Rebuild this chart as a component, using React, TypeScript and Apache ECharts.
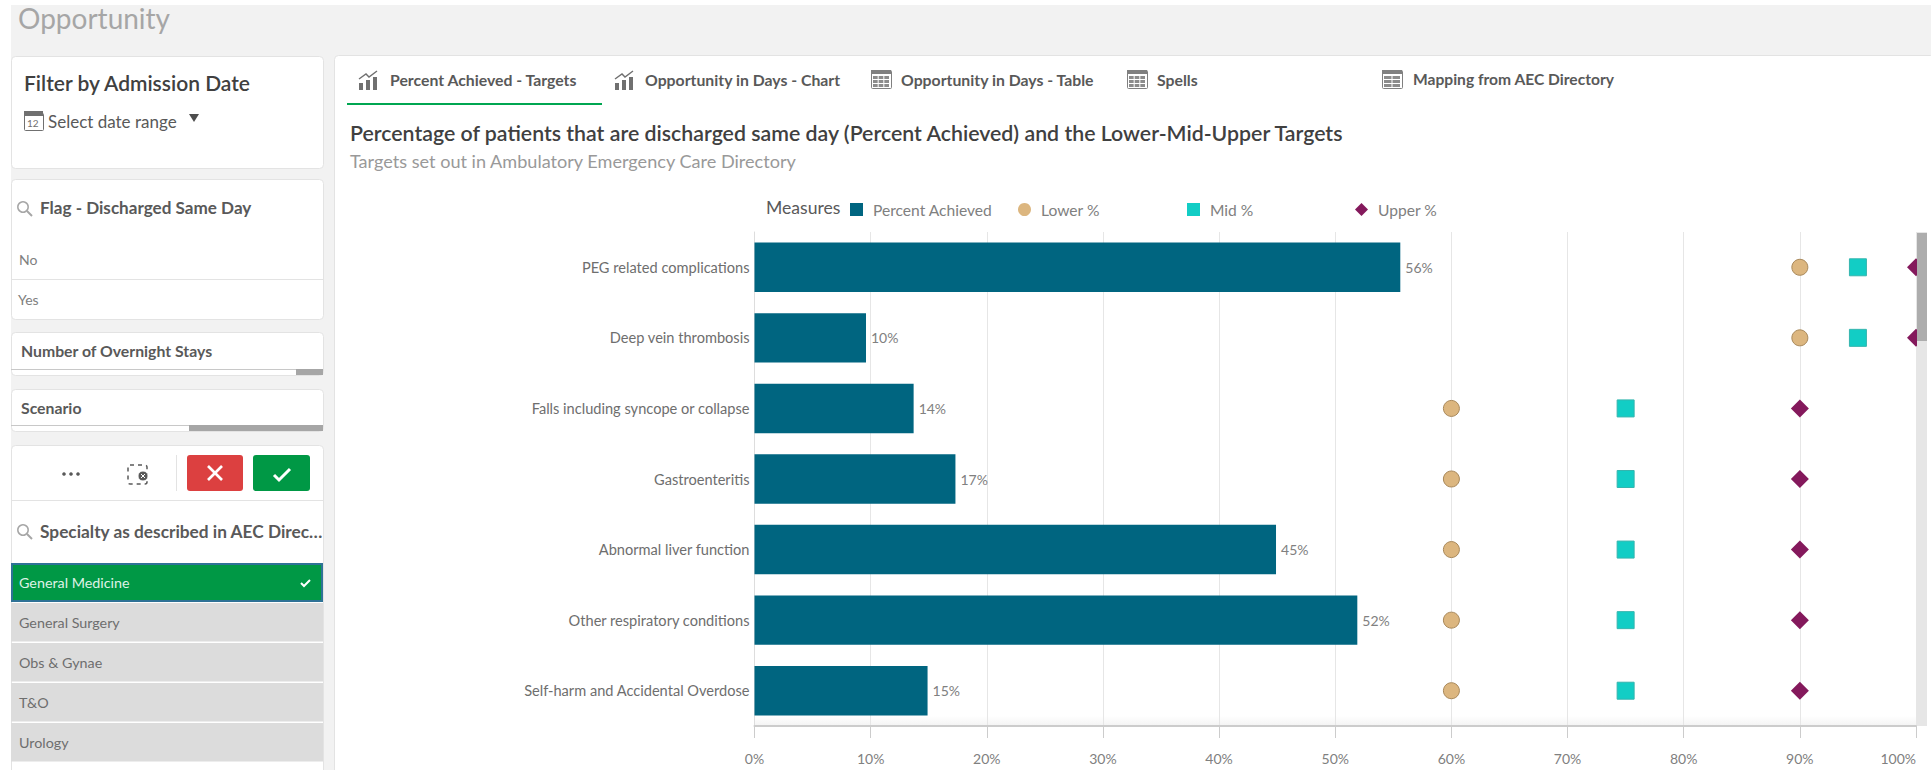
import React, { useEffect, useRef } from "react";
import * as echarts from "echarts";

const conditions = [
  "PEG related complications",
  "Deep vein thrombosis",
  "Falls including syncope or collapse",
  "Gastroenteritis",
  "Abnormal liver function",
  "Other respiratory conditions",
  "Self-harm and Accidental Overdose",
];
const percentAchieved = [55.6, 9.6, 13.7, 17.3, 44.9, 51.9, 14.9];
const lowerTarget = [90, 90, 60, 60, 60, 60, 60];
const midTarget = [95, 95, 75, 75, 75, 75, 75];
const upperTarget = [100, 100, 90, 90, 90, 90, 90];
const specialties = ["General Surgery", "Obs & Gynae", "T&O", "Urology"];

const FONT = "Lato";
const TEAL = "#006580";
const TAN = "#dcb67f";
const CYAN = "#12cdc5";
const PLUM = "#84195c";
const GREEN = "#009845";

const txt = (x: number, y: number, text: string, fontSize: number, fill: string, fontWeight: any = 400, z = 5) => ({
  type: "text",
  x,
  y,
  z,
  style: { text, fontFamily: FONT, fontSize, fill, fontWeight, textVerticalAlign: "middle", verticalAlign: "middle" },
});
const box = (x: number, y: number, width: number, height: number, fill: string, stroke?: string, r = 0, z = -5) => ({
  type: "rect",
  z,
  shape: { x: x + (stroke ? 0.5 : 0), y: y + (stroke ? 0.5 : 0), width, height, r },
  style: { fill, stroke: stroke || "none", lineWidth: stroke ? 1 : 0 },
});
const seg = (x1: number, y1: number, x2: number, y2: number, stroke: string, lineWidth = 1, z = 5) => ({
  type: "line",
  z,
  shape: { x1, y1, x2, y2 },
  style: { stroke, lineWidth },
});

const searchIcon = (x: number, y: number) => [
  { type: "circle", z: 5, shape: { cx: x + 6, cy: y - 1, r: 5.2 }, style: { fill: "none", stroke: "#a6a6a6", lineWidth: 1.5 } },
  seg(x + 10, y + 3, x + 15, y + 8, "#a6a6a6", 2),
];

// Combined bar-and-trend glyph used by the chart tabs
const chartIcon = (x: number, y: number) => [
  box(x, y + 3, 4, 7, "#707070", undefined, 0, 5),
  box(x + 7, y, 4, 10, "#707070", undefined, 0, 5),
  box(x + 14, y - 3, 4, 13, "#707070", undefined, 0, 5),
  { type: "polyline", z: 5, shape: { points: [[x, y - 1], [x + 7, y - 6], [x + 10, y - 3], [x + 18, y - 9]] }, style: { fill: "none", stroke: "#707070", lineWidth: 1.4 } },
];

const tableIcon = (x: number, y: number, cols = 3) => {
  const w = 20;
  const h = 18;
  const els: any[] = [box(x, y - h / 2, w, h, "#fff", "#808080", 1, 5), box(x, y - h / 2, w, 4, "#808080", undefined, 0, 5)];
  for (let c = 0; c < cols; c++) {
    for (let r = 0; r < 3; r++) {
      const cw = (w - 4 - (cols - 1)) / cols;
      els.push(box(x + 2 + c * (cw + 1), y - h / 2 + 6 + r * 4, cw, 3, "#8c8c8c", undefined, 0, 5));
    }
  }
  return els;
};

const buildChrome = () => [
  // Page and panels
  box(0, 0, 1931, 770, "#ffffff", undefined, 0, -20),
  box(11, 5, 1920, 765, "#f2f2f2", undefined, 0, -19),
  box(334, 55, 1600, 720, "#ffffff", "#e3e3e3", 4),
  box(11, 56, 312, 112, "#ffffff", "#e3e3e3", 4),
  box(11, 179, 312, 140, "#ffffff", "#e3e3e3", 4),
  box(11, 332, 312, 43, "#ffffff", "#e3e3e3", 4),
  box(11, 389, 312, 42, "#ffffff", "#e3e3e3", 4),
  box(11, 445, 312, 330, "#ffffff", "#e3e3e3", 4),

  txt(18, 18, "Opportunity", 28, "#a6a6a6"),

  // Date filter
  txt(24, 82, "Filter by Admission Date", 21, "#404040", 600),
  box(24, 113, 19, 17, "#fff", "#707070", 1, 5),
  box(24, 111, 19, 5, "#707070", undefined, 0, 5),
  txt(27, 123, "12", 10, "#707070"),
  txt(48, 121, "Select date range", 17, "#595959"),
  { type: "polygon", z: 5, shape: { points: [[189, 114], [199, 114], [194, 122]] }, style: { fill: "#4d4d4d" } },

  // Discharge flag listbox
  ...searchIcon(17, 208),
  txt(40, 207, "Flag - Discharged Same Day", 17.1, "#595959", 700),
  txt(19, 259, "No", 14, "#808080"),
  seg(11, 279.5, 323, 279.5, "#e3e3e3"),
  txt(18, 299, "Yes", 14, "#808080"),

  // Collapsed listboxes
  txt(21, 350, "Number of Overnight Stays", 15.8, "#595959", 700),
  seg(11, 369.5, 296, 369.5, "#c8c8c8"),
  box(296, 369, 27, 6, "#a6a6a6", undefined, 0, 5),
  txt(21, 407, "Scenario", 15.8, "#595959", 700),
  seg(11, 425.5, 189, 425.5, "#c8c8c8"),
  box(189, 425, 134, 6, "#a6a6a6", undefined, 0, 5),

  // Selection toolbar
  { type: "circle", z: 5, shape: { cx: 64, cy: 474, r: 1.8 }, style: { fill: "#595959" } },
  { type: "circle", z: 5, shape: { cx: 71, cy: 474, r: 1.8 }, style: { fill: "#595959" } },
  { type: "circle", z: 5, shape: { cx: 78, cy: 474, r: 1.8 }, style: { fill: "#595959" } },
  {
    type: "rect",
    z: 5,
    shape: { x: 128, y: 465, width: 19, height: 19, r: 2 },
    style: { fill: "none", stroke: "#595959", lineWidth: 1.5, lineDash: [4, 4] },
  },
  { type: "circle", z: 6, shape: { cx: 143, cy: 476, r: 5 }, style: { fill: "#595959", stroke: "#fff", lineWidth: 1 } },
  seg(141, 474, 145, 478, "#fff", 1, 7),
  seg(145, 474, 141, 478, "#fff", 1, 7),
  seg(176.5, 455, 176.5, 491, "#e3e3e3"),
  box(187, 455, 56, 36, "#dc4040", undefined, 3, 5),
  seg(208, 466, 222, 480, "#ffffff", 2.6, 6),
  seg(222, 466, 208, 480, "#ffffff", 2.6, 6),
  box(253, 455, 57, 36, GREEN, undefined, 3, 5),
  { type: "polyline", z: 6, shape: { points: [[274, 475], [279, 480], [290, 469]] }, style: { fill: "none", stroke: "#fff", lineWidth: 3 } },
  seg(11, 500.5, 323, 500.5, "#e3e3e3"),

  // Specialty listbox
  ...searchIcon(17, 531),
  txt(40, 531, "Specialty as described in AEC Direc…", 17.3, "#595959", 700),
  box(11, 563, 312, 39, "#2f7296", undefined, 0, 4),
  box(13, 565, 308, 35, GREEN, undefined, 0, 5),
  txt(19, 582, "General Medicine", 14.3, "#dff2e6"),
  { type: "polyline", z: 6, shape: { points: [[301, 583], [304, 586], [310, 580]] }, style: { fill: "none", stroke: "#fff", lineWidth: 2 } },
  ...specialties.flatMap((name, i) => [
    box(11, 603 + i * 40, 312, 38.5, "#dcdcdc", undefined, 0, 5),
    txt(19, 622 + i * 40, name, 14.3, "#6e6e6e", 400, 6),
  ]),

  // Sheet tabs
  ...chartIcon(359, 80),
  txt(390, 79, "Percent Achieved - Targets", 15.8, "#595959", 700),
  seg(347, 104, 602, 104, "#00a651", 2),
  ...chartIcon(615, 80),
  txt(645, 79, "Opportunity in Days - Chart", 15.8, "#595959", 700),
  ...tableIcon(871, 79),
  txt(901, 79, "Opportunity in Days - Table", 15.8, "#595959", 700),
  ...tableIcon(1127, 79),
  txt(1157, 79, "Spells", 15.8, "#595959", 700),
  ...tableIcon(1382, 79, 2),
  txt(1413, 79, "Mapping from AEC Directory", 15.6, "#595959", 700),

  // Chart heading and legend caption
  txt(350, 133, "Percentage of patients that are discharged same day (Percent Achieved) and the Lower-Mid-Upper Targets", 21.3, "#404040", 600),
  txt(350, 161, "Targets set out in Ambulatory Emergency Care Directory", 18.1, "#999999"),
  txt(766, 207, "Measures", 17.6, "#595959"),

  // Fade at the foot of the scrolling plot
  { type: "rect", z: -1, shape: { x: 755, y: 716, width: 1161, height: 10 }, style: { fill: new echarts.graphic.LinearGradient(0, 0, 0, 1, [{ offset: 0, color: "#ffffff" }, { offset: 1, color: "#f3f3f3" }]) } },

  // List scrollbar beside the plot
  box(1917, 232, 10, 494, "#e6e6e6", undefined, 0, 20),
  box(1917, 233, 10, 108, "#adadad", undefined, 0, 21),
  box(1927, 232, 4, 538, "#ffffff", undefined, 0, 20),
];

const legendAt = (name: string, left: number, icon: string) => ({
  data: [{ name, icon, itemStyle: { borderWidth: 0 } }],
  left,
  top: 201.5,
  itemWidth: 13,
  itemHeight: 13,
  itemGap: 0,
  padding: 0,
  selectedMode: false,
  textStyle: { fontFamily: FONT, fontSize: 15.6, color: "#808080", padding: [0, 0, 0, 5] },
});

export default function App() {
  const ref = useRef<HTMLDivElement>(null);

  useEffect(() => {
    document.body.style.margin = "0";
    const chart = echarts.init(ref.current!, undefined, { renderer: "svg" });
    chart.setOption({
      animation: false,
      textStyle: { fontFamily: FONT },
      graphic: { elements: buildChrome() },
      legend: [
        legendAt("Percent Achieved", 850, "rect"),
        legendAt("Lower %", 1018, "circle"),
        legendAt("Mid %", 1187, "rect"),
        legendAt("Upper %", 1355, "diamond"),
      ],
      grid: { left: 754.5, right: 15, top: 232, bottom: 44, outerBoundsMode: "none" },
      xAxis: {
        type: "value",
        min: 0,
        max: 100,
        interval: 10,
        axisLine: { show: true, lineStyle: { color: "#cccccc", width: 2 } },
        axisTick: { show: true, length: 12, lineStyle: { color: "#cccccc" } },
        axisLabel: { formatter: "{value}%", margin: 25, fontSize: 14, color: "#808080", fontFamily: FONT, alignMaxLabel: "right" },
        splitLine: { show: true, lineStyle: { color: "#e6e6e6" } },
      },
      yAxis: {
        type: "category",
        inverse: true,
        data: conditions,
        axisLine: { show: true, lineStyle: { color: "#dddddd" } },
        axisTick: { show: false },
        axisLabel: { margin: 5, fontSize: 14.6, color: "#6e6e6e", fontFamily: FONT, padding: [0, 0, 3, 0] },
        splitLine: { show: false },
      },
      series: [
        {
          name: "Percent Achieved",
          type: "bar",
          data: percentAchieved,
          barWidth: "70%",
          itemStyle: { color: TEAL },
          label: {
            show: true,
            position: "right",
            distance: 5,
            fontSize: 14,
            color: "#808080",
            fontFamily: FONT,
            formatter: (p: any) => `${Math.round(p.value)}%`,
          },
        },
        {
          name: "Lower %",
          type: "scatter",
          data: lowerTarget,
          symbol: "circle",
          symbolSize: 16,
          itemStyle: { color: TAN, opacity: 1, borderColor: "#a8885a", borderWidth: 1 },
        },
        {
          name: "Mid %",
          type: "scatter",
          data: midTarget,
          symbol: "rect",
          symbolSize: 17,
          itemStyle: { color: CYAN, opacity: 1, borderColor: "#35b5ae", borderWidth: 1 },
        },
        {
          name: "Upper %",
          type: "scatter",
          data: upperTarget,
          symbol: "diamond",
          symbolSize: 18,
          clip: false,
          itemStyle: { color: PLUM, opacity: 1 },
        },
      ].map((s: any) =>
        s.type === "scatter"
          ? { ...s, encode: { x: 0, y: 1 }, data: s.data.map((v: number, i: number) => [v, conditions[i]]) }
          : s
      ),
    });
    return () => chart.dispose();
  }, []);

  return <div ref={ref} style={{ position: "absolute", left: 0, top: 0, width: 1931, height: 770 }} />;
}
